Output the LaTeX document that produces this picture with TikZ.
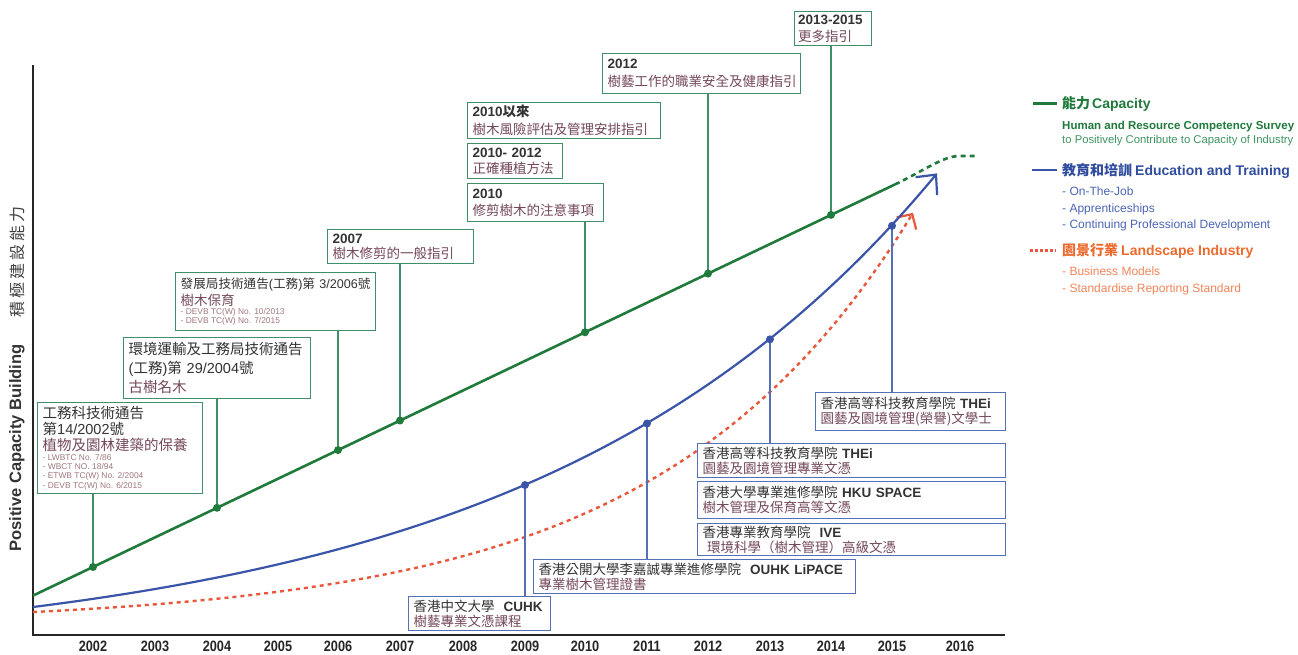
\documentclass[tikz,border=0pt]{standalone}
\usepackage{fontspec}
\setmainfont{Liberation Sans}
\newfontfamily\cj{Noto Sans CJK TC}
\newfontfamily\yrfont[FakeStretch=0.85]{Liberation Sans}
\usetikzlibrary{arrows.meta}
\definecolor{gline}{HTML}{1F7A3C}
\definecolor{gbord}{HTML}{3F8F68}
\definecolor{bline}{HTML}{3A55A8}
\definecolor{bbord}{HTML}{5470B8}
\definecolor{rline}{HTML}{E8573C}
\definecolor{otext}{HTML}{EB6B2E}
\definecolor{otext2}{HTML}{F0845A}
\definecolor{dtext}{HTML}{333333}
\definecolor{mtext}{HTML}{74485A}
\definecolor{stext}{HTML}{A07880}
\definecolor{gtext}{HTML}{1F7A3C}
\definecolor{gtext2}{HTML}{3E9460}
\definecolor{btext}{HTML}{2F4C9E}
\definecolor{btext2}{HTML}{4A64B4}
\newcommand{\smalllist}[1]{{\fontsize{8.4}{9.3}\selectfont\spaceskip=0pt\xspaceskip=0pt\color{stext}#1\par}}
\begin{document}
\begin{tikzpicture}[x=1pt,y=-1pt,
  gbox/.style={draw=gbord, line width=1.4pt, fill=white, anchor=north west, align=left,
     inner xsep=5pt, inner ysep=1pt, text=dtext, font=\fontsize{13.5}{16.5}\selectfont},
  bbox/.style={draw=bbord, line width=1.4pt, fill=white, anchor=north west, align=left,
     inner xsep=5pt, inner ysep=1pt, text=dtext, font=\fontsize{13.5}{15}\selectfont},
  gconn/.style={draw=gbord, line width=1.2pt},
  bconn/.style={draw=bbord, line width=1.2pt},
  gdot/.style={fill=gline},
  bdot/.style={fill=bline},
  axisline/.style={draw=black!85, line width=2.6pt},
  yearlbl/.style={font=\yrfont\bfseries\fontsize{15}{16}\selectfont, text=black!85, inner sep=0pt},
  lgtitle/.style={anchor=base west, inner sep=0pt, font=\bfseries\fontsize{14}{16}\selectfont},
  lgsub/.style={anchor=base west, inner sep=0pt, font=\fontsize{12}{14}\selectfont}
]
\useasboundingbox (0,0) rectangle (1298,654);

% axes
\draw[axisline] (33,65) -- (33,635) -- (1005,635);

% axis labels
\node[rotate=90, font=\bfseries\fontsize{16.5}{18}\selectfont, text=black!80] (ylab) at (17,448) {Positive Capacity Building};
\node[rotate=90, font=\fontsize{16}{18}\selectfont, text=black!75] (ylab2) at (17,262) {\cj\addfontfeature{LetterSpace=18}積極建設能力};

\foreach \xx/\yy in {93/2002,155/2003,217/2004,278/2005,338/2006,400/2007,463/2008,525/2009,585/2010,647/2011,708/2012,770/2013,831/2014,892/2015,960/2016}
  \node[yearlbl] (yr\yy) at (\xx,646) {\yy};

% green line coordinates
\coordinate (g0) at (33,595.6);
\coordinate (gEnd) at (895,184.4);
\coordinate (p2002) at (93,567.0);
\coordinate (p2004) at (217,507.8);
\coordinate (p2006) at (338,450.1);
\coordinate (p2007) at (400,420.5);
\coordinate (p2010) at (585,332.3);
\coordinate (p2012) at (708,273.6);
\coordinate (p2014) at (831,214.9);
\coordinate (gFar) at (978,156);

% blue curve points
\coordinate (q2009) at (525,485.0);
\coordinate (q2011) at (647,423.5);
\coordinate (q2013) at (770,339.3);
\coordinate (q2015) at (892,225.8);

% red dashed curve
\draw[rline, line width=2.4pt, dash pattern=on 4pt off 4pt, -{Straight Barb[length=11pt,width=23pt,line width=2.2pt]}]
  plot[domain=33:913, samples=80, smooth] (\x, {612-12.2*(exp(0.004*(\x-33))-1)});

% blue curve
\draw[bline, line width=2.2pt, -{Straight Barb[length=15pt,width=28pt,line width=2.2pt]}]
  plot[domain=33:937, samples=80, smooth] (\x, {607-50.4*(exp(0.0025*(\x-33))-1)});

% green line
\draw[gline, line width=2.6pt] (g0) -- (gEnd);
\draw[gline, line width=2.6pt, dash pattern=on 5pt off 4pt] (gEnd) .. controls (925,170) and (942,157) .. (958,156) -- (gFar);

% green boxes
\node[gbox, font=\fontsize{14.5}{16}\selectfont, minimum width=165pt, minimum height=91pt, text width=155pt] (b1) at (37,402)
 {{\cj 工務科技術通告}\\{\cj 第}14/2002{\cj 號}\\{\color{mtext}\cj 植物及園林建築的保養}\par
  \smalllist{- LWBTC No. 7/86\\- WBCT NO. 18/94\\- ETWB TC(W) No. 2/2004\\- DEVB TC(W) No. 6/2015}};
\node[gbox, font=\fontsize{14.5}{19}\selectfont, minimum width=187pt, minimum height=61pt, text width=177pt] (b2) at (123,337)
 {{\cj 環境運輸及工務局技術通告}\\({\cj 工務}){\cj 第}~29/2004{\cj 號}\\{\color{mtext}\cj 古樹名木}};
\node[gbox, font=\fontsize{12.6}{16.5}\selectfont, minimum width=200pt, minimum height=58pt, text width=190pt] (b3) at (175,272)
 {{\cj 發展局技術通告}({\cj 工務}){\cj 第}~3/2006{\cj 號}\\{\fontsize{13.5}{16.5}\selectfont\color{mtext}\cj 樹木保育}\par
  \smalllist{- DEVB TC(W) No. 10/2013\\- DEVB TC(W) No. 7/2015}};
\node[gbox, font=\fontsize{13.5}{14.5}\selectfont, minimum width=146pt, minimum height=34pt, text width=136pt] (b4) at (327,229)
 {\textbf{2007}\\{\color{mtext}\cj 樹木修剪的一般指引}};
\node[gbox, minimum width=136pt, minimum height=38pt, text width=126pt] (b5) at (467,183)
 {\textbf{2010}\\{\color{mtext}\cj 修剪樹木的注意事項}};
\node[gbox, minimum width=95pt, minimum height=35pt, text width=85pt] (b6) at (467,143)
 {\textbf{2010-~2012}\\{\color{mtext}\cj 正確種植方法}};
\node[gbox, font=\fontsize{13.5}{18}\selectfont, minimum width=193pt, minimum height=36pt, text width=183pt] (b7) at (467,102)
 {\textbf{2010}{\cj\bfseries 以來}\\{\color{mtext}\cj 樹木風險評估及管理安排指引}};
\node[gbox, font=\fontsize{13.5}{18}\selectfont, minimum width=198pt, minimum height=40pt, text width=188pt] (b8) at (602,53)
 {\textbf{2012}\\{\color{mtext}\cj 樹藝工作的職業安全及健康指引}};
\node[gbox, minimum width=77pt, minimum height=34pt, text width=70pt, inner xsep=3.5pt] (b9) at (794,11)
 {\mbox{\textbf{2013-2015}}\\{\color{mtext}\cj 更多指引}};

% blue boxes
\node[bbox, minimum width=190pt, minimum height=38pt, text width=180pt] (bA) at (815,392)
 {{\cj 香港高等科技教育學院}~\textbf{THEi}\\{\color{mtext}\cj 園藝及園境管理(榮譽)文學士}};
\node[bbox, minimum width=308pt, minimum height=34pt, text width=298pt] (bB) at (697,443)
 {{\cj 香港高等科技教育學院}~\textbf{THEi}\\{\color{mtext}\cj 園藝及園境管理專業文憑}};
\node[bbox, minimum width=308pt, minimum height=37pt, text width=298pt] (bC) at (697,481)
 {{\cj 香港大學專業進修學院}~\textbf{HKU~SPACE}\\{\color{mtext}\cj 樹木管理及保育高等文憑}};
\node[bbox, minimum width=308pt, minimum height=32pt, text width=298pt] (bD) at (697,523)
 {{\cj 香港專業教育學院}~~\textbf{IVE}\\{\color{mtext}\cj ~環境科學（樹木管理）高級文憑}};
\node[bbox, minimum width=322pt, minimum height=34pt, text width=312pt] (bE) at (533,559)
 {{\cj 香港公開大學李嘉誠專業進修學院}~~\textbf{OUHK~LiPACE}\\{\color{mtext}\cj 專業樹木管理證書}};
\node[bbox, minimum width=142pt, minimum height=34pt, text width=132pt] (bF) at (408,596)
 {{\cj 香港中文大學}~~\textbf{CUHK}\\{\color{mtext}\cj 樹藝專業文憑課程}};

% connectors
\draw[gconn] (b1.south -| p2002) -- (p2002);
\draw[gconn] (b2.south -| p2004) -- (p2004);
\draw[gconn] (b3.south -| p2006) -- (p2006);
\draw[gconn] (b4.south -| p2007) -- (p2007);
\draw[gconn] (b5.south -| p2010) -- (p2010);
\draw[gconn] (b8.south -| p2012) -- (p2012);
\draw[gconn] (b9.south -| p2014) -- (p2014);
\draw[bconn] (bA.north -| q2015) -- (q2015);
\draw[bconn] (bB.north -| q2013) -- (q2013);
\draw[bconn] (bE.north -| q2011) -- (q2011);
\draw[bconn] (bF.north -| q2009) -- (q2009);

% dots
\foreach \p in {p2002,p2004,p2006,p2007,p2010,p2012,p2014} \fill[gdot] (\p) circle (4pt);
\foreach \p in {q2009,q2011,q2013,q2015} \fill[bdot] (\p) circle (4pt);

% legend
\draw[gline, line width=3pt] (1033,103) -- (1057,103);
\draw[bline, line width=2.2pt] (1032,170) -- (1057,170);
\draw[rline, line width=3pt, dash pattern=on 3pt off 2pt] (1030,250) -- (1056,250);
\node[lgtitle, text=gtext] (lg1) at (1062,108) {{\cj\bfseries 能力}\hspace{2pt}Capacity};
\node[lgsub, font=\bfseries\fontsize{11.5}{13}\selectfont, text=gtext] (lg1a) at (1062,129) {Human and Resource Competency Survey};
\node[lgsub, font=\fontsize{11.3}{13}\selectfont, text=gtext2] (lg1b) at (1062,143) {to Positively Contribute to Capacity of Industry};
\node[lgtitle, text=btext] (lg2) at (1062,175) {{\cj\bfseries 教育和培訓}\hspace{3pt}Education and Training};
\node[lgsub, text=btext2] (lg2a) at (1062,195) {- On-The-Job};
\node[lgsub, text=btext2] (lg2b) at (1062,212) {- Apprenticeships};
\node[lgsub, text=btext2] (lg2c) at (1062,228) {- Continuing Professional Development};
\node[lgtitle, text=otext] (lg3) at (1062,255) {{\cj\bfseries 園景行業}\hspace{3pt}Landscape Industry};
\node[lgsub, text=otext2] (lg3a) at (1062,275) {- Business Models};
\node[lgsub, text=otext2] (lg3b) at (1062,292) {- Standardise Reporting Standard};
\end{tikzpicture}
\end{document}
